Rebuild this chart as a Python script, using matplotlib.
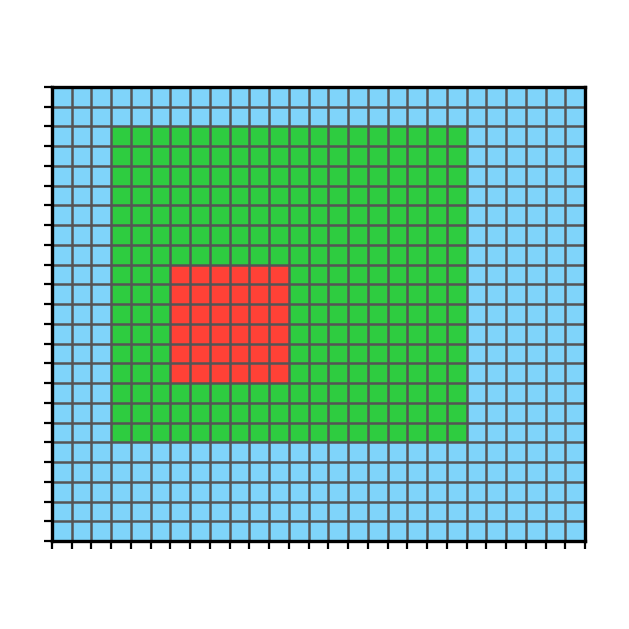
import numpy as np
import matplotlib
matplotlib.use("Agg")
import matplotlib.pyplot as plt
from matplotlib.colors import ListedColormap

# grid size (rows, cols)
n_rows = 23
n_cols = 27
# regions: (row_start, row_end, col_start, col_end, value)
outer_region = (2, 18, 3, 21, 1)
inner_region = (9, 15, 6, 12, 2)
colors = ["#7FD4FA", "#2ECC40", "#FF4136"]

grid = np.zeros((n_rows, n_cols))
for r0, r1, c0, c1, v in [outer_region, inner_region]:
    grid[r0:r1, c0:c1] = v

fig = plt.figure(figsize=(6.29, 6.29), dpi=100)
ax = fig.add_axes([52/629, 1-541/629, 533/629, 454/629])
ax.pcolormesh(grid, cmap=ListedColormap(colors), vmin=-0.5, vmax=2.5)
# cell borders
ax.grid(True, color="#555555", linewidth=1.8)
ax.set_axisbelow(False)
ax.set_xlim(0, n_cols)
ax.set_ylim(n_rows, 0)
ax.set_xticks(np.arange(n_cols + 1))
ax.set_yticks(np.arange(n_rows + 1))
ax.set_xticklabels([])
ax.set_yticklabels([])
ax.tick_params(length=5.5, width=1.6, direction="out", color="black")
for s in ax.spines.values():
    s.set_linewidth(2.4)
    s.set_color("black")
    s.set_zorder(5)

fig.savefig("out.png", dpi=100)
